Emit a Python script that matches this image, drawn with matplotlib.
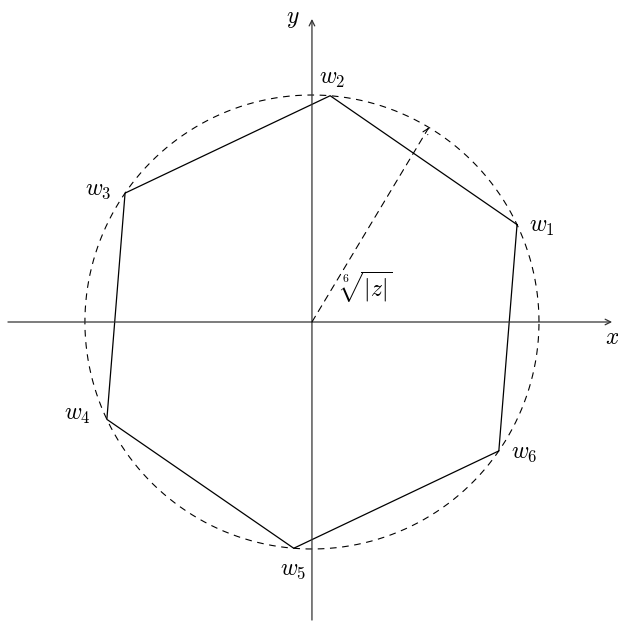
import numpy as np
import matplotlib
matplotlib.use('Agg')
import matplotlib.pyplot as plt

plt.rcParams['mathtext.fontset'] = 'cm'

# vertex angles of the hexagon (degrees), radius 1
vertex_angles = [25.4, 85.4, 145.4, 205.4, 265.4, 325.4]
vertex_labels = ['$w_1$', '$w_2$', '$w_3$', '$w_4$', '$w_5$', '$w_6$']
label_pos = [(1.013, 0.423), (0.088, 1.075), (-0.943, 0.586),
             (-1.031, -0.405), (-0.084, -1.088), (0.934, -0.573)]
radius = 1.0
arrow_angle = 59.0

fig = plt.figure(figsize=(6.18, 6.22), dpi=100)
ax = fig.add_axes([0, 0, 1, 1])
ax.set_xlim(-1.374, 1.348)
ax.set_ylim(-1.3216, 1.4185)
ax.axis('off')

# axes
ax.annotate('', xy=(1.322, 0), xytext=(-1.339, 0),
            arrowprops=dict(arrowstyle='->', lw=0.9, color='#333333', shrinkA=0, shrinkB=0))
ax.annotate('', xy=(0, 1.335), xytext=(0, -1.313),
            arrowprops=dict(arrowstyle='->', lw=0.9, color='#333333', shrinkA=0, shrinkB=0))
ax.text(1.322, -0.066, '$x$', fontsize=17, ha='center', va='center')
ax.text(-0.084, 1.339, '$y$', fontsize=17, ha='center', va='center')

# dashed circle
t = np.linspace(0, 2 * np.pi, 400)
ax.plot(radius * np.cos(t), radius * np.sin(t), color='black', lw=0.8,
        linestyle=(0, (6, 5)))

# hexagon
a = np.radians(vertex_angles + [vertex_angles[0]])
ax.plot(radius * np.cos(a), radius * np.sin(a), color='black', lw=0.9)

for lab, (lx, ly) in zip(vertex_labels, label_pos):
    ax.text(lx, ly, lab, fontsize=17, ha='center', va='center')

# radius arrow
ra = np.radians(arrow_angle)
ax.annotate('', xy=(radius * np.cos(ra), radius * np.sin(ra)), xytext=(0, 0),
            arrowprops=dict(arrowstyle='->', lw=0.8, linestyle=(0, (6, 5)),
                            color='black', shrinkA=0, shrinkB=0))
ax.text(0.24, 0.152, r'$\sqrt[6]{|z|}$', fontsize=17, ha='center', va='center')

fig.savefig('out.png', dpi=100)
